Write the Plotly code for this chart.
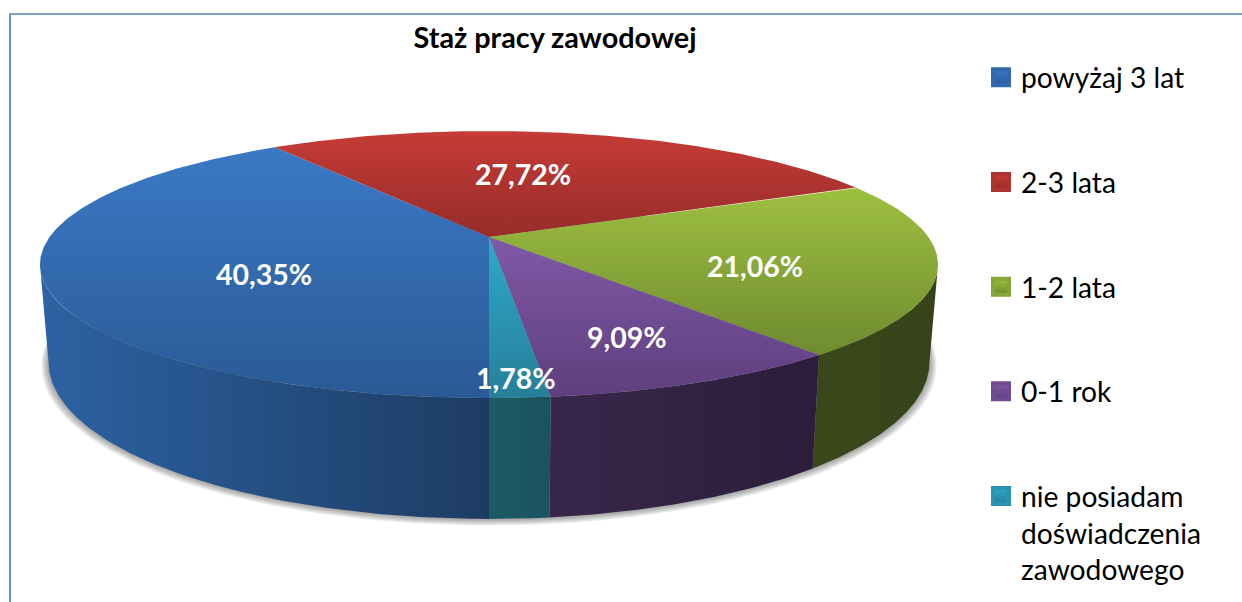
import numpy as np
import plotly.graph_objects as go

TITLE = "Staż pracy zawodowej"
categories = ["powyżaj 3 lat", "2-3 lata", "1-2 lata", "0-1 rok",
              "nie posiadam<br>doświadczenia<br>zawodowego"]
values = [40.35, 27.72, 21.06, 9.09, 1.78]
label_pos = [(264, 274), (523, 174), (755, 266), (627, 337), (516, 378)]

top_light = ["#3b79c6", "#c63b37", "#9ec040", "#8059a6", "#2fa9c9"]
top_dark = ["#2a5a95", "#962c29", "#6f8b30", "#5e3f7e", "#267f99"]
legend_mid = ["#3268ad", "#ad3430", "#87a638", "#6f4c92", "#2b94b1"]
side_light = ["#2d62a3", "#000000", "#3a4819", "#38274b", "#1c5a66"]
side_dark = ["#1d3c63", "#000000", "#36431a", "#2c1d3a", "#1a5360"]

# projection of the pie disc (perspective ellipse), in pixel space
CX, APEX_Y, R, K, P = 489, 237, 439.4, 127.8, 0.206
BASE_R, BASE_Y, BASE_K = 431, 330, 150
START = 180.0  # first slice starts at the front and runs clockwise


def rim(theta, r=R, cy=APEX_Y, k=K):
    t = np.radians(theta)
    s = 1 / (1 + P * np.cos(t))
    return CX + r * np.sin(t) * s, cy - k * np.cos(t) * s


def base(theta, grow=0.0, drop=0.0):
    return rim(theta, BASE_R + grow, BASE_Y + drop, BASE_K + grow * 0.4)


total = sum(values)
edges = START + np.concatenate([[0], np.cumsum(values)]) * 360 / total
SIL_R = np.degrees(np.arccos(-P))          # right silhouette of the disc
SIL_L = 360 - SIL_R                        # left silhouette of the disc

fig = go.Figure()

# soft ground shadow
for d in range(7, 0, -1):
    x, y = base(np.linspace(0, 360, 361), grow=d, drop=d * 0.45)
    fig.add_trace(go.Scatter(x=x, y=y, mode="lines", fill="toself",
                             fillcolor="rgba(60,60,60,0.08)", line=dict(width=0),
                             hoverinfo="skip", showlegend=False))

# side walls (only the part facing the viewer)
for i in range(len(values)):
    a, b = edges[i], edges[i + 1]
    ranges = []
    lo, hi = max(a, SIL_R), min(b, SIL_L)
    if lo < hi:
        ranges.append((lo, hi))
    lo2, hi2 = max(a - 360, SIL_R), min(b - 360, SIL_L)
    if lo2 < hi2:
        ranges.append((lo2, hi2))
    for lo_, hi_ in ranges:
        th = np.linspace(lo_, hi_, 120)
        xt, yt = rim(th)
        xb, yb = base(th[::-1])
        fig.add_trace(go.Scatter(
            x=np.concatenate([xt, xb]), y=np.concatenate([yt, yb]),
            mode="lines", fill="toself", line=dict(width=0),
            fillgradient=dict(type="horizontal",
                              colorscale=[[0, side_light[i]], [1, side_dark[i]]]),
            hoverinfo="skip", showlegend=False))

# top surface
for i in range(len(values)):
    th = np.linspace(edges[i], edges[i + 1], 240)
    xa, ya = rim(th)
    fig.add_trace(go.Scatter(
        x=np.concatenate([[CX], xa, [CX]]), y=np.concatenate([[APEX_Y], ya, [APEX_Y]]),
        mode="lines", fill="toself", line=dict(width=0),
        fillgradient=dict(type="vertical",
                          colorscale=[[0, top_dark[i]], [1, top_light[i]]]),
        hoverinfo="text", text=f"{values[i]:.2f}%".replace(".", ","),
        showlegend=False))

# legend entries
for i, name in enumerate(categories):
    fig.add_trace(go.Scatter(
        x=[None], y=[None], mode="markers", name=name, legendgroup=f"g{i}",
        marker=dict(symbol="square", size=18, color=top_light[i],
                    gradient=dict(type="vertical", color=top_dark[i]),
                    line=dict(color=legend_mid[i], width=4))))

for (px, py), v in zip(label_pos, values):
    fig.add_annotation(x=px, y=py, showarrow=False,
                       text=f"<b>{v:.2f}%</b>".replace(".", ","),
                       font=dict(family="Lato", size=28.5, color="white"))

fig.update_layout(
    width=1242, height=602,
    margin=dict(l=0, r=0, t=0, b=0),
    paper_bgcolor="white", plot_bgcolor="white",
    font=dict(family="Lato"),
    title=dict(text=f"<b>{TITLE}</b>", x=555 / 1242, xanchor="center",
               y=1 - 38 / 602, yanchor="middle",
               font=dict(family="Lato", size=28.8, color="black")),
    xaxis=dict(visible=False, range=[0, 1242], fixedrange=True),
    yaxis=dict(visible=False, range=[602, 0], fixedrange=True),
    showlegend=True,
    legend=dict(x=981 / 1242, y=1 - 52.5 / 602, xanchor="left", yanchor="top",
                font=dict(family="Lato", size=28.2, color="black"),
                tracegroupgap=65, valign="top", bgcolor="rgba(0,0,0,0)",
                itemwidth=30, traceorder="grouped"),
    shapes=[
        dict(type="line", xref="paper", yref="paper", x0=9.5 / 1242, x1=1,
             y0=1 - 14 / 602, y1=1 - 14 / 602, line=dict(color="#5d82b5", width=1.5)),
        dict(type="line", xref="paper", yref="paper", x0=10 / 1242, x1=10 / 1242,
             y0=1 - 13.5 / 602, y1=0, line=dict(color="#6a96d0", width=2)),
    ],
)
fig.write_html("out.html", config={"displayModeBar": False},
               post_script="document.body.style.margin='0';document.body.style.overflow='hidden';")
